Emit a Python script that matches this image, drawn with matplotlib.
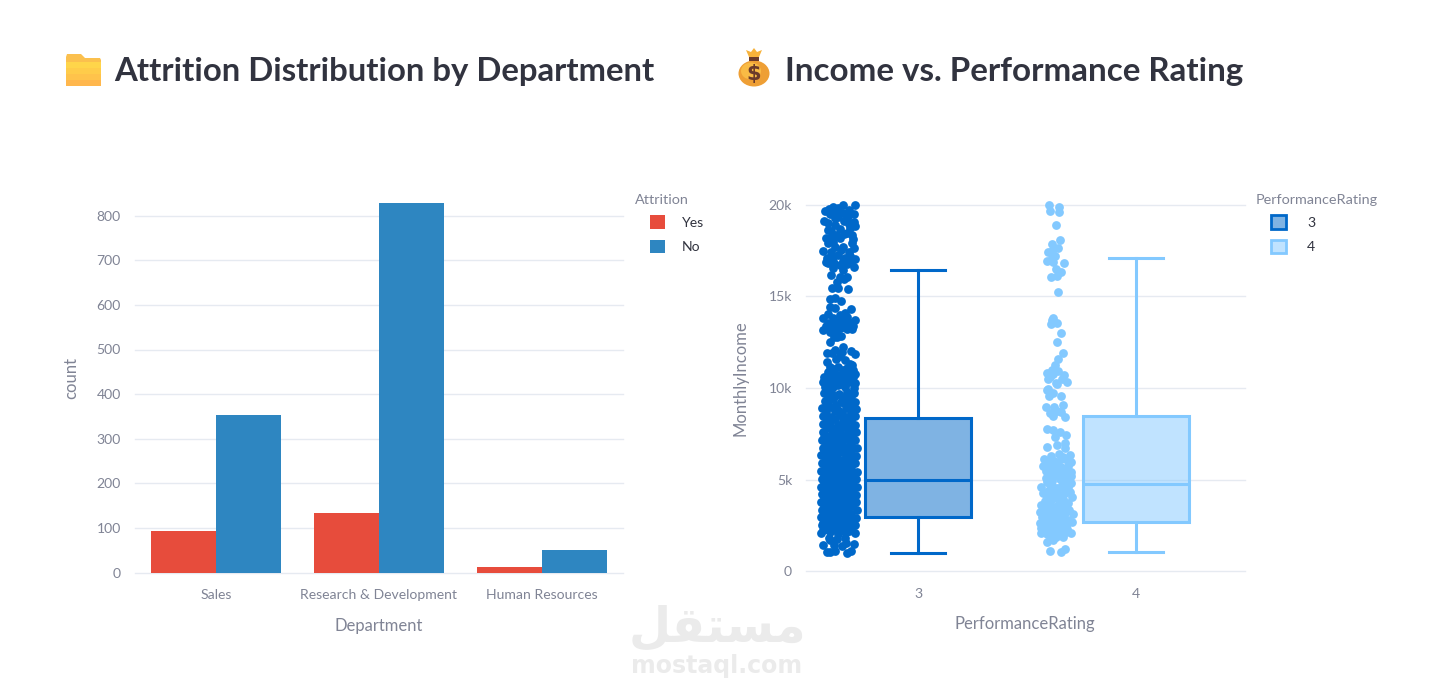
import numpy as np
import matplotlib
matplotlib.use("Agg")
import matplotlib.pyplot as plt
from matplotlib.patches import Patch, Polygon, Ellipse, Rectangle

W, H = 1434, 694
FONT = "Lato"
TITLE_COLOR = "#31333F"
TICK_COLOR = "#808495"
GRID_COLOR = "#E6EAF1"

# left chart
departments = ["Sales", "Research & Development", "Human Resources"]
attrition_yes = [92, 133, 12]
attrition_no = [354, 828, 50]
YES_COLOR = "#E74C3C"
NO_COLOR = "#2E86C1"

# right chart
ratings = ["3", "4"]
box_low = [1000, 1050]
box_q1 = [2960, 2700]
box_med = [4980, 4780]
box_q3 = [8370, 8480]
box_high = [16430, 17070]
income_ticks = [0, 5000, 10000, 15000, 20000]
income_labels = ["0", "5k", "10k", "15k", "20k"]
DARK = "#0068C9"
LIGHT = "#83C9FF"

# (offset from category centre, income in k)
points_3 = [
    (-.392, 19.85), (-.291, 19.97), (-.345, 19.99), (-.365, 19.79), (-.426, 19.66), (-.319, 19.70),
    (-.403, 19.48), (-.345, 19.52), (-.296, 19.48), (-.380, 19.25), (-.431, 19.12), (-.327, 19.25),
    (-.411, 18.97), (-.296, 19.06), (-.380, 18.88), (-.288, 18.83), (-.415, 18.61), (-.360, 18.65),
    (-.304, 18.34), (-.421, 18.16), (-.395, 18.25), (-.357, 18.16), (-.327, 18.43), (-.411, 17.88),
    (-.304, 17.92), (-.380, 17.70), (-.342, 17.70), (-.296, 17.61), (-.434, 17.47), (-.319, 17.43),
    (-.388, 17.16), (-.418, 17.07), (-.334, 17.07), (-.288, 17.03), (-.411, 16.79), (-.357, 16.70),
    (-.296, 16.57), (-.327, 16.76), (-.388, 16.52), (-.398, 16.16), (-.360, 16.03), (-.327, 16.07),
    (-.372, 15.79), (-.395, 15.43), (-.365, 15.43), (-.322, 15.39), (-.403, 14.83), (-.380, 14.88),
    (-.353, 14.76), (-.403, 14.43), (-.380, 14.34), (-.308, 14.28), (-.415, 14.03), (-.334, 14.07),
    (-.437, 13.79), (-.388, 13.79), (-.350, 13.79), (-.291, 13.70), (-.411, 13.56), (-.365, 13.61),
    (-.319, 13.61), (-.434, 13.16), (-.395, 13.25), (-.342, 13.30), (-.304, 13.19), (-.372, 12.80),
    (-.354, 12.85), (-.406, 12.50), (-.342, 12.21), (-.380, 12.07), (-.308, 12.03), (-.418, 11.92),
    (-.395, 11.89), (-.291, 11.85), (-.357, 11.74), (-.418, 11.41), (-.334, 11.52), (-.403, 11.16),
    (-.304, 11.25), (-.365, 11.16), (-.431, 10.61), (-.326, 11.07), (-.288, 10.76), (-.388, 10.83),
    (-.342, 10.80), (-.411, 10.43), (-.365, 10.43), (-.304, 10.43), (-.426, 10.07), (-.388, 10.07),
    (-.334, 10.07), (-.296, 9.98), (-.437, 10.30), (-.290, 10.25),
    # fill in the upper clusters
    (-.410, 19.75), (-.375, 19.60), (-.320, 19.40), (-.365, 19.30), (-.340, 19.10), (-.315, 18.95),
    (-.400, 18.55), (-.312, 18.70), (-.340, 18.40), (-.375, 18.35), (-.300, 18.10), (-.392, 17.95),
    (-.355, 17.50), (-.398, 17.40), (-.365, 17.25), (-.310, 17.20), (-.345, 16.90), (-.305, 16.95),
    (-.420, 16.85), (-.345, 16.45), (-.385, 16.80), (-.340, 15.95),
    (-.360, 13.95), (-.325, 13.85), (-.300, 13.40), (-.385, 13.45), (-.345, 13.50), (-.420, 13.35),
    (-.375, 13.10), (-.325, 13.20), (-.360, 13.25), (-.405, 13.05), (-.385, 12.75),
    (-.350, 11.95), (-.375, 11.55), (-.310, 11.30), (-.385, 11.05), (-.345, 11.00), (-.300, 11.00),
    (-.415, 10.85), (-.405, 10.65), (-.365, 10.70), (-.320, 10.70), (-.300, 10.60), (-.345, 10.45),
    (-.385, 10.45), (-.430, 10.40), (-.365, 10.15), (-.315, 10.30), (-.410, 10.20), (-.350, 10.20),
    # dense part
    (-.432, 9.72), (-.398, 9.80), (-.362, 9.66), (-.328, 9.78), (-.292, 9.70),
    (-.428, 9.30), (-.392, 9.38), (-.355, 9.25), (-.322, 9.33), (-.288, 9.22),
    (-.440, 8.88), (-.404, 8.96), (-.368, 8.82), (-.332, 8.90), (-.285, 8.85),
    (-.436, 8.46), (-.398, 8.40), (-.360, 8.52), (-.326, 8.44), (-.290, 8.48),
    (-.438, 8.02), (-.402, 8.10), (-.366, 7.98), (-.330, 8.06), (-.287, 8.00),
    (-.434, 7.60), (-.396, 7.68), (-.358, 7.56), (-.322, 7.64), (-.284, 7.58),
    (-.441, 7.18), (-.404, 7.24), (-.368, 7.14), (-.334, 7.22), (-.288, 7.16),
    (-.437, 6.74), (-.400, 6.82), (-.362, 6.70), (-.326, 6.78), (-.282, 6.72),
    (-.444, 6.32), (-.406, 6.38), (-.370, 6.28), (-.332, 6.36), (-.286, 6.30),
    (-.439, 5.90), (-.400, 5.96), (-.364, 5.86), (-.328, 5.94), (-.288, 5.88),
    (-.446, 5.46), (-.408, 5.54), (-.372, 5.42), (-.334, 5.50), (-.281, 5.44),
    (-.440, 5.04), (-.402, 5.10), (-.364, 5.00), (-.326, 5.08), (-.285, 5.02),
    (-.443, 4.62), (-.406, 4.68), (-.368, 4.58), (-.332, 4.66), (-.280, 4.60),
    (-.439, 4.20), (-.400, 4.26), (-.362, 4.16), (-.324, 4.24), (-.284, 4.18),
    (-.445, 3.78), (-.408, 3.84), (-.370, 3.74), (-.334, 3.82), (-.286, 3.76),
    (-.441, 3.36), (-.402, 3.42), (-.364, 3.32), (-.326, 3.40), (-.282, 3.34),
    (-.446, 2.94), (-.408, 3.00), (-.370, 2.90), (-.332, 2.98), (-.285, 2.92),
    (-.442, 2.52), (-.404, 2.58), (-.366, 2.48), (-.328, 2.56), (-.287, 2.50),
    (-.444, 2.10), (-.406, 2.16), (-.368, 2.06), (-.330, 2.14), (-.288, 2.08),
    # staggered between the rows above
    (-.415, 9.52), (-.380, 9.58), (-.345, 9.48), (-.308, 9.55),
    (-.412, 9.12), (-.375, 9.08), (-.340, 9.15), (-.305, 9.05),
    (-.420, 8.68), (-.383, 8.72), (-.348, 8.64), (-.308, 8.66),
    (-.418, 8.24), (-.380, 8.28), (-.345, 8.20), (-.306, 8.26),
    (-.416, 7.82), (-.382, 7.78), (-.344, 7.86), (-.304, 7.80),
    (-.418, 7.40), (-.378, 7.44), (-.346, 7.36), (-.303, 7.38),
    (-.420, 6.96), (-.384, 7.00), (-.348, 6.94), (-.306, 6.98),
    (-.422, 6.54), (-.382, 6.58), (-.346, 6.50), (-.308, 6.52),
    (-.420, 6.12), (-.384, 6.14), (-.346, 6.08), (-.306, 6.10),
    (-.424, 5.70), (-.382, 5.72), (-.350, 5.66), (-.306, 5.68),
    (-.422, 5.26), (-.386, 5.30), (-.346, 5.24), (-.304, 5.28),
    (-.424, 4.84), (-.384, 4.86), (-.345, 4.80), (-.304, 4.82),
    (-.420, 4.42), (-.382, 4.44), (-.346, 4.38), (-.304, 4.40),
    (-.424, 4.00), (-.386, 4.02), (-.348, 3.96), (-.308, 3.98),
    (-.424, 3.58), (-.384, 3.60), (-.346, 3.54), (-.304, 3.56),
    (-.426, 3.16), (-.388, 3.18), (-.350, 3.12), (-.306, 3.14),
    (-.424, 2.74), (-.386, 2.76), (-.348, 2.70), (-.306, 2.72),
    (-.424, 2.32), (-.386, 2.34), (-.348, 2.28), (-.308, 2.30),
    # solid core below 8k
    (-.405, 7.90), (-.365, 7.75), (-.325, 7.85), (-.430, 7.35), (-.390, 7.30), (-.355, 7.45),
    (-.320, 7.30), (-.425, 7.05), (-.385, 6.70), (-.350, 6.60), (-.310, 6.85), (-.430, 6.50),
    (-.392, 6.20), (-.358, 6.00), (-.318, 6.20), (-.428, 5.80), (-.395, 5.62), (-.360, 5.60),
    (-.320, 5.60), (-.430, 5.20), (-.394, 5.20), (-.355, 5.15), (-.316, 5.18), (-.430, 4.78),
    (-.392, 4.78), (-.355, 4.72), (-.316, 4.72), (-.430, 4.34), (-.392, 4.35), (-.355, 4.28),
    (-.316, 4.32), (-.432, 3.92), (-.396, 3.92), (-.358, 3.86), (-.318, 3.90), (-.432, 3.48),
    (-.394, 3.50), (-.356, 3.44), (-.316, 3.48), (-.434, 3.06), (-.396, 3.08), (-.358, 3.02),
    (-.318, 3.06), (-.434, 2.64), (-.396, 2.66), (-.358, 2.60), (-.316, 2.64), (-.434, 2.24),
    (-.396, 2.24), (-.358, 2.18), (-.318, 2.22),
    # bottom edge
    (-.410, 1.80), (-.372, 1.76), (-.335, 1.82), (-.403, 1.71),
    (-.434, 1.44), (-.330, 1.53), (-.293, 1.49), (-.385, 1.45), (-.350, 1.40),
    (-.418, 1.07), (-.380, 1.13), (-.326, 1.02), (-.308, 1.13), (-.406, 1.05),
]
points_4 = [
    (-.400, 19.99), (-.353, 19.88), (-.394, 19.63), (-.353, 19.59), (-.368, 18.86), (-.347, 18.08),
    (-.387, 17.86), (-.358, 17.61), (-.402, 17.41), (-.384, 17.46), (-.371, 17.17), (-.387, 17.07),
    (-.410, 16.90), (-.379, 16.85), (-.332, 16.81), (-.367, 16.47), (-.342, 16.30), (-.364, 16.10),
    (-.388, 16.05), (-.356, 15.21), (-.379, 13.83), (-.384, 13.70), (-.390, 13.49), (-.362, 13.52),
    (-.344, 12.98), (-.362, 12.50), (-.336, 11.92), (-.356, 11.58), (-.373, 11.25), (-.387, 10.98),
    (-.410, 10.80), (-.356, 10.92), (-.330, 10.71), (-.405, 10.47), (-.379, 10.76), (-.341, 10.47),
    (-.315, 10.31), (-.365, 10.25), (-.402, 9.92), (-.364, 10.21), (-.407, 9.89), (-.382, 9.74),
    (-.398, 9.56), (-.342, 9.58), (-.333, 9.07), (-.411, 8.94), (-.376, 8.94), (-.394, 8.65),
    (-.361, 8.76), (-.345, 8.70), (-.382, 8.47), (-.327, 8.39), (-.410, 7.78), (-.382, 7.70),
    (-.371, 7.34), (-.347, 7.61), (-.319, 7.41), (-.407, 6.80), (-.361, 6.89), (-.324, 6.98),
    (-.326, 6.71), (-.303, 6.36), (-.388, 6.29), (-.355, 6.40), (-.333, 6.21), (-.422, 6.14),
    (-.300, 5.96), (-.428, 5.74), (-.382, 5.62), (-.402, 5.49), (-.361, 5.80), (-.326, 5.56),
    (-.296, 5.42), (-.413, 5.07), (-.371, 5.25), (-.348, 5.02), (-.315, 5.16), (-.296, 4.80),
    (-.434, 4.58), (-.394, 4.71), (-.425, 4.25), (-.364, 4.52), (-.326, 4.58), (-.303, 4.34),
    (-.387, 4.16), (-.348, 4.16), (-.295, 4.03), (-.417, 3.85), (-.333, 3.92), (-.437, 3.60),
    (-.397, 3.62), (-.379, 3.49), (-.345, 3.38), (-.309, 3.34), (-.425, 3.38), (-.290, 3.13),
    (-.433, 2.98), (-.410, 2.94), (-.387, 2.98), (-.364, 2.89), (-.333, 2.94), (-.310, 2.80),
    (-.295, 2.69), (-.440, 2.65), (-.417, 2.62), (-.394, 2.65), (-.371, 2.58), (-.348, 2.62),
    (-.326, 2.53), (-.437, 2.34), (-.413, 2.33), (-.388, 2.34), (-.364, 2.29), (-.341, 2.33),
    (-.315, 2.33), (-.437, 2.07), (-.410, 2.04), (-.382, 2.07), (-.355, 2.04), (-.333, 1.89),
    (-.300, 2.11), (-.407, 1.60), (-.379, 1.71), (-.394, 1.09), (-.345, 1.04), (-.328, 1.20),
    # more of the busy middle
    (-.395, 10.60), (-.392, 6.05), (-.375, 6.02), (-.345, 6.10), (-.315, 6.05), (-.405, 5.85),
    (-.385, 5.85), (-.345, 5.70), (-.310, 5.75), (-.415, 5.45), (-.390, 5.30), (-.355, 5.45),
    (-.335, 5.30), (-.300, 5.20), (-.400, 5.20), (-.385, 4.95), (-.340, 4.90), (-.315, 4.85),
    (-.410, 4.85), (-.380, 4.60), (-.345, 4.60), (-.310, 4.60), (-.405, 4.40), (-.365, 4.25),
    (-.325, 4.25), (-.410, 4.05), (-.375, 4.00), (-.345, 3.85), (-.395, 3.80), (-.310, 3.75),
    (-.415, 3.55), (-.360, 3.60), (-.330, 3.55), (-.400, 3.30), (-.370, 3.25), (-.325, 3.20),
    (-.440, 3.25), (-.415, 3.15), (-.385, 3.15), (-.350, 3.10),
    (-.425, 2.85), (-.400, 2.80), (-.375, 2.78), (-.350, 2.82), (-.320, 2.70), (-.425, 2.48),
    (-.400, 2.50), (-.375, 2.45), (-.350, 2.48), (-.320, 2.48), (-.425, 2.20), (-.398, 2.20),
    (-.372, 2.18), (-.348, 2.18), (-.322, 2.15), (-.395, 1.90), (-.365, 1.85),
]

plt.rcParams["font.family"] = [FONT, "DejaVu Sans"]


def axes_px(fig, left, right, top, bottom):
    return fig.add_axes([left / W, 1 - bottom / H, (right - left) / W, (bottom - top) / H])


def style_axes(ax):
    for s in ax.spines.values():
        s.set_visible(False)
    ax.set_facecolor("none")
    ax.yaxis.grid(True, color=GRID_COLOR, linewidth=1.0, clip_on=False)
    ax.set_axisbelow(True)
    ax.tick_params(length=0, labelcolor=TICK_COLOR, labelsize=10.1)


fig = plt.figure(figsize=(W / 100, H / 100), dpi=100, facecolor="white")

# background layer in pixel coordinates, for the icons and the watermark
bg = fig.add_axes([0, 0, 1, 1], zorder=0)

# folder icon
bg.add_patch(Polygon([(66, 57), (67, 54), (81, 54), (85, 58), (100, 58), (101, 60), (101, 70), (66, 70)],
                     color="#FBC04E", lw=0))
bg.imshow(np.array([[0.0], [0.3], [0.6], [1.0]]), extent=(66, 101, 86, 62), aspect="auto",
          cmap=matplotlib.colors.LinearSegmentedColormap.from_list("f", ["#FFD54A", "#FFB74D"]), zorder=2)
bg.set_xlim(0, W)
bg.set_ylim(H, 0)
bg.axis("off")

# money bag icon
bg.add_patch(Ellipse((754, 73.5), 31, 26, color="#EE9F35", lw=0, zorder=2))
bg.add_patch(Ellipse((751, 71), 20, 17, color="#F9BB45", lw=0, zorder=2))
bg.add_patch(Polygon([(749, 57), (746, 50), (751, 52), (754, 48), (757, 52), (762, 50), (759, 57)],
                     color="#F7B23B", lw=0, zorder=3))
bg.add_patch(Rectangle((749, 57), 10, 4, color="#6B3A2A", lw=0, zorder=3))
bg.text(754, 74, "$", color="#6B3A2A", fontsize=15, fontweight="bold", ha="center", va="center", zorder=4,
        family="DejaVu Sans")

# watermark
bg.text(717, 627, "\uFEDE\uFED8\uFE98\uFEB4\uFEE3", color="#EBEBEB", fontsize=35, fontweight="bold",
        ha="center", va="center", family="DejaVu Sans", zorder=1)
bg.text(717, 666, "mostaql.com", color="#EBEBEB", fontsize=17, fontweight="bold",
        ha="center", va="center", family="DejaVu Sans", zorder=1)

# headings
bg.text(114, 71, "Attrition Distribution by Department", color=TITLE_COLOR, fontsize=23.7,
        fontweight="bold", ha="left", va="center", zorder=5)
bg.text(785, 71, "Income vs. Performance Rating", color=TITLE_COLOR, fontsize=23.9,
        fontweight="bold", ha="left", va="center", zorder=5)

# bar chart
ax1 = axes_px(fig, 135, 623, 190, 572.5)
ax1.set_zorder(2)
style_axes(ax1)
xpos = np.arange(len(departments))
ax1.bar(xpos - 0.2, attrition_yes, 0.4, color=YES_COLOR, label="Yes")
ax1.bar(xpos + 0.2, attrition_no, 0.4, color=NO_COLOR, label="No")
ax1.set_xlim(-0.5, 2.5)
ax1.set_ylim(0, (572.5 - 190) / 0.446)
ax1.set_yticks(range(0, 900, 100))
ax1.set_xticks(xpos, departments)
ax1.tick_params(axis="x", pad=12)
ax1.tick_params(axis="y", pad=10)
ax1.set_xlabel("Department", color=TICK_COLOR, fontsize=12)
ax1.xaxis.set_label_coords(0.5, -0.118)
ax1.set_ylabel("count", color=TICK_COLOR, fontsize=12)
ax1.yaxis.set_label_coords((79 - 135) / 488, 0.508)
fig.text(635 / W, 1 - 200.5 / H, "Attrition", color=TICK_COLOR, fontsize=10.4, va="center")
leg1 = ax1.legend(loc="upper left", bbox_to_anchor=(650 / W, 1 - 215.5 / H),
                  bbox_transform=fig.transFigure, frameon=False, fontsize=10.1,
                  handlelength=1.07, handleheight=1.07, handletextpad=1.2,
                  labelspacing=0.78, borderaxespad=0, borderpad=0)
for t in leg1.get_texts():
    t.set_color(TITLE_COLOR)

# box and strip chart
ax2 = axes_px(fig, 806, 1245, 190, 571.3)
ax2.set_zorder(2)
style_axes(ax2)
colors = [DARK, LIGHT]
for i, pts in enumerate([points_3, points_4]):
    pts = np.array(pts)
    ax2.scatter(i + pts[:, 0], pts[:, 1] * 1000, s=40, color=colors[i], linewidths=0, clip_on=False, zorder=3)
    stats = [{"whislo": box_low[i], "q1": box_q1[i], "med": box_med[i], "q3": box_q3[i], "whishi": box_high[i]}]
    style = dict(color=colors[i], linewidth=2.2)
    ax2.bxp(stats, positions=[i], widths=[0.49], showfliers=False, patch_artist=True, manage_ticks=False,
            capwidths=[0.245], boxprops=dict(facecolor=matplotlib.colors.to_rgba(colors[i], 0.5),
                                             edgecolor=colors[i], linewidth=2.2),
            whiskerprops=style, capprops=style, medianprops=style, zorder=3)
ax2.set_xlim(-0.514, 1.5)
ax2.set_ylim(0, (571.3 - 190) / 18.34 * 1000)
ax2.set_yticks(income_ticks, income_labels)
ax2.set_xticks([0, 1], ratings)
ax2.tick_params(axis="x", pad=12)
ax2.tick_params(axis="y", pad=10)
ax2.set_xlabel("PerformanceRating", color=TICK_COLOR, fontsize=12)
ax2.xaxis.set_label_coords((1025 - 806) / 439, -0.118)
ax2.set_ylabel("MonthlyIncome", color=TICK_COLOR, fontsize=12)
ax2.yaxis.set_label_coords((749 - 806) / 439, 0.507)
fig.text(1256 / W, 1 - 200.5 / H, "PerformanceRating", color=TICK_COLOR, fontsize=10.4, va="center")
handles = [Patch(facecolor=matplotlib.colors.to_rgba(c, 0.5), edgecolor=c, linewidth=2.0) for c in colors]
leg2 = ax2.legend(handles, ratings, loc="upper left", bbox_to_anchor=(1271 / W, 1 - 215.5 / H),
                  bbox_transform=fig.transFigure, frameon=False, fontsize=10.1,
                  handlelength=1.07, handleheight=1.07, handletextpad=1.5,
                  labelspacing=0.78, borderaxespad=0, borderpad=0)
for t in leg2.get_texts():
    t.set_color(TITLE_COLOR)

fig.savefig("out.png", dpi=100)
plt.close(fig)
